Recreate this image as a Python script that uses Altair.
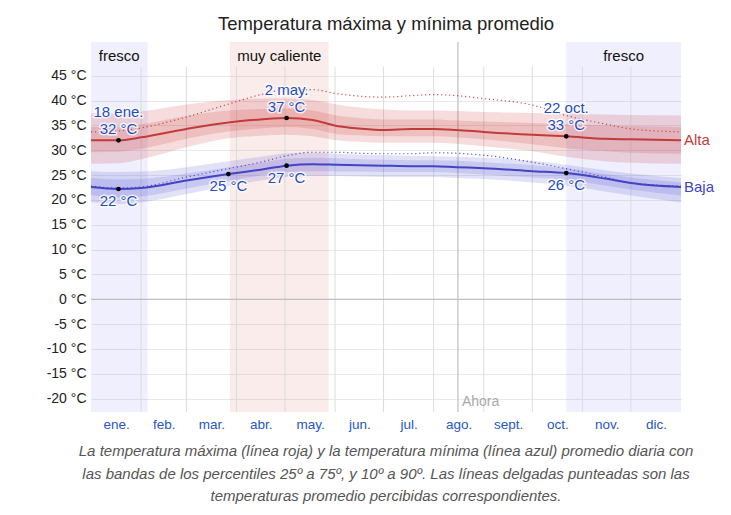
import altair as alt
import pandas as pd

FONT = "Liberation Sans"

# ---- data (day of year 0..365) ----
days    = [0, 17, 31, 59, 85, 105, 121, 137, 152, 166, 181, 198, 212, 226, 243, 273, 294, 318, 334, 365]
hi_mean = [32.0, 32.0, 32.6, 34.3, 35.6, 36.2, 36.5, 36.1, 34.9, 34.4, 34.1, 34.3, 34.3, 34.1, 33.7, 33.1, 32.8, 32.3, 32.2, 32.0]
hi_p90  = [37.4, 37.4, 37.8, 39.2, 40.1, 40.4, 40.4, 40.1, 39.2, 38.6, 38.2, 38.0, 38.0, 37.9, 37.7, 37.5, 37.4, 37.2, 37.1, 37.0]
hi_p75  = [34.7, 34.7, 35.2, 36.9, 38.0, 38.3, 38.4, 38.0, 37.0, 36.5, 36.2, 36.2, 36.2, 36.0, 35.8, 35.5, 35.3, 35.0, 34.9, 34.7]
hi_p25  = [29.6, 29.7, 30.3, 32.3, 33.8, 34.4, 34.7, 34.3, 33.3, 33.0, 32.8, 32.8, 32.8, 32.6, 32.2, 31.2, 30.4, 29.8, 29.5, 29.3]
hi_p10  = [27.3, 27.4, 28.2, 30.6, 32.4, 32.9, 33.1, 32.8, 32.0, 31.7, 31.5, 31.5, 31.5, 31.3, 30.8, 29.8, 28.7, 27.8, 27.5, 27.3]
hi_feel = [33.7, 33.9, 34.5, 36.7, 39.3, 41.2, 42.2, 42.2, 41.4, 40.9, 40.7, 41.0, 41.2, 41.0, 40.4, 39.1, 37.0, 35.3, 34.3, 33.7]

lo_mean = [22.6, 22.2, 22.4, 23.9, 25.2, 26.1, 26.9, 27.2, 27.1, 27.0, 26.9, 26.8, 26.8, 26.6, 26.4, 25.8, 25.4, 24.3, 23.4, 22.6]
lo_p90  = [25.8, 25.6, 25.7, 26.6, 27.8, 28.7, 29.4, 29.5, 29.3, 29.1, 29.0, 28.9, 28.8, 28.7, 28.5, 27.9, 27.1, 26.0, 25.3, 24.4]
lo_p75  = [24.4, 24.1, 24.2, 25.3, 26.6, 27.5, 28.3, 28.5, 28.4, 28.2, 28.1, 28.0, 28.0, 27.9, 27.6, 27.0, 26.4, 25.2, 24.5, 23.5]
lo_p25  = [21.0, 20.5, 20.7, 22.3, 23.8, 24.9, 25.6, 25.8, 25.8, 25.7, 25.6, 25.6, 25.6, 25.4, 25.1, 24.5, 24.0, 22.9, 22.1, 20.9]
lo_p10  = [19.6, 19.2, 19.5, 21.2, 22.8, 23.9, 24.6, 24.8, 24.8, 24.7, 24.6, 24.6, 24.6, 24.4, 24.2, 23.5, 22.9, 21.7, 20.9, 19.5]
lo_feel = [22.8, 22.4, 22.6, 24.6, 26.3, 27.6, 28.9, 29.6, 29.6, 29.4, 29.3, 29.3, 29.5, 29.4, 29.0, 27.6, 26.3, 24.6, 23.4, 22.8]

month_names  = ["ene.", "feb.", "mar.", "abr.", "may.", "jun.", "jul.", "ago.", "sept.", "oct.", "nov.", "dic."]
month_starts = [0, 31, 59, 90, 120, 151, 181, 212, 243, 273, 304, 334, 365]
y_ticks      = [-20, -15, -10, -5, 0, 5, 10, 15, 20, 25, 30, 35, 40, 45]

region_start = [0, 86, 294]
region_end   = [35, 147, 365]
region_label = ["fresco", "muy caliente", "fresco"]
region_kind  = ["fresco", "caliente", "fresco"]

ann_day   = [17, 17, 121, 121, 85, 294, 294]
ann_val   = [32.0, 22.2, 36.5, 26.9, 25.2, 32.8, 25.4]
ann_date  = ["18 ene.", "", "2 may.", "", "", "22 oct.", ""]
ann_temp  = ["32 °C", "22 °C", "37 °C", "27 °C", "25 °C", "33 °C", "26 °C"]
ann_pos   = ["above", "below", "above", "below", "below", "above", "below"]

now_day = 227
now_label_y = -20.7

title = "Temperatura máxima y mínima promedio"
caption = ("La temperatura máxima (línea roja) y la temperatura mínima (línea azul) promedio diaria con\n"
           "las bandas de los percentiles 25º a 75º, y 10º a 90º. Las líneas delgadas punteadas son las\n"
           "temperaturas promedio percibidas correspondientes.")

# ---- tables ----
df = pd.DataFrame(dict(day=days, hi=hi_mean, hi90=hi_p90, hi75=hi_p75, hi25=hi_p25, hi10=hi_p10, hif=hi_feel,
                       lo=lo_mean, lo90=lo_p90, lo75=lo_p75, lo25=lo_p25, lo10=lo_p10, lof=lo_feel))
mids = [(month_starts[i] + month_starts[i + 1]) / 2 for i in range(12)]
grid_df = pd.DataFrame(dict(day=month_starts[1:-1], top=[46.8] * 11, bot=[-22.7] * 11))
now_df = pd.DataFrame(dict(day=[now_day], top=[51.8], bot=[-22.7], ly=[now_label_y], t=["Ahora"]))
reg_df = pd.DataFrame(dict(s=region_start, e=region_end, label=region_label, kind=region_kind))
reg_df["mid"] = (reg_df.s + reg_df.e) / 2
ann_df = pd.DataFrame(dict(day=ann_day, v=ann_val, date=ann_date, temp=ann_temp, pos=ann_pos))
end_df = pd.DataFrame(dict(day=[365, 365], v=[hi_mean[-1], lo_mean[-1]], t=["Alta", "Baja"], c=["Alta", "Baja"]))
zero_df = pd.DataFrame(dict(v=[0]))

W, H = 590, 370
xscale = alt.Scale(domain=[0, 365], nice=False, zero=False)
yscale = alt.Scale(domain=[-22.7, 51.8], nice=False, zero=False)
label_expr = "[" + ",".join("'%s'" % m for m in month_names) + "][floor(datum.value / 30.42)]"
xaxis = alt.Axis(values=mids, labelExpr=label_expr, title=None, grid=False, ticks=False, domain=False,
                 labelColor="#2756c6", labelFontSize=13.5, labelPadding=5, labelFont=FONT,
                 labelOverlap=False, labelFlush=False)
yaxis = alt.Axis(values=y_ticks, labelExpr="datum.value + ' °C'", title=None, grid=True, gridColor="#e9e9e9",
                 ticks=False, domain=False, labelColor="#222222", labelFontSize=14, labelPadding=5,
                 labelFont=FONT, labelOverlap=False, labelFlush=False)


def X(f):
    return alt.X(f, scale=xscale, axis=xaxis)


def Y(f):
    return alt.Y(f, scale=yscale, axis=yaxis)


base = alt.Chart(df)

regions = alt.Chart(reg_df).mark_rect().encode(
    x=X("s:Q"), x2="e:Q",
    color=alt.Color("kind:N", scale=alt.Scale(domain=["fresco", "caliente"], range=["#6a6aef", "#dc6464"]), legend=None),
    opacity=alt.Opacity("kind:N", scale=alt.Scale(domain=["fresco", "caliente"], range=[0.11, 0.12]), legend=None),
)
reg_text = alt.Chart(reg_df).mark_text(font=FONT, fontSize=15, color="#111111", baseline="middle").encode(
    x=X("mid:Q"), y=alt.value(14), text="label:N")

vgrid = alt.Chart(grid_df).mark_rule(color="#dcdcdc", strokeWidth=1).encode(x=X("day:Q"), y=Y("top:Q"), y2="bot:Q")
zero = alt.Chart(zero_df).mark_rule(color="#b5b5b5", strokeWidth=1).encode(y=Y("v:Q"))
now_rule = alt.Chart(now_df).mark_rule(color="#c4c4c4", strokeWidth=1.3).encode(x=X("day:Q"), y=Y("top:Q"), y2="bot:Q")
now_text = alt.Chart(now_df).mark_text(font=FONT, fontSize=14, color="#aaaaaa", align="left", dx=4,
                                        baseline="middle").encode(x=X("day:Q"), y=Y("ly:Q"), text="t:N")

RED, BLUE = "#c23b3b", "#4343c4"
hi_out = base.mark_area(interpolate="monotone", color="#c83232", opacity=0.17).encode(x=X("day:Q"), y=Y("hi10:Q"), y2="hi90:Q")
hi_in = base.mark_area(interpolate="monotone", color="#c83232", opacity=0.17).encode(x=X("day:Q"), y=Y("hi25:Q"), y2="hi75:Q")
lo_out = base.mark_area(interpolate="monotone", color="#5050d2", opacity=0.17).encode(x=X("day:Q"), y=Y("lo10:Q"), y2="lo90:Q")
lo_in = base.mark_area(interpolate="monotone", color="#5050d2", opacity=0.17).encode(x=X("day:Q"), y=Y("lo25:Q"), y2="lo75:Q")
hi_f = base.mark_line(interpolate="monotone", color=RED, strokeWidth=1.2, strokeDash=[1.2, 2.8], opacity=0.9).encode(x=X("day:Q"), y=Y("hif:Q"))
lo_f = base.mark_line(interpolate="monotone", color=BLUE, strokeWidth=1.2, strokeDash=[1.2, 2.8], opacity=0.9).encode(x=X("day:Q"), y=Y("lof:Q"))
hi_l = base.mark_line(interpolate="monotone", color=RED, strokeWidth=2).encode(x=X("day:Q"), y=Y("hi:Q"))
lo_l = base.mark_line(interpolate="monotone", color=BLUE, strokeWidth=2).encode(x=X("day:Q"), y=Y("lo:Q"))

pts = alt.Chart(ann_df).mark_circle(color="black", size=22, opacity=1).encode(x=X("day:Q"), y=Y("v:Q"))

ANN = "#1f4dbf"


def ann_layer(field, pos, dy):
    src = alt.Chart(ann_df).transform_filter(alt.datum.pos == pos).transform_filter(alt.datum[field] != "")
    halo = src.mark_text(font=FONT, fontSize=15, dy=dy, baseline="middle", stroke="white", strokeWidth=3,
                         strokeOpacity=0.75, color="white").encode(x=X("day:Q"), y=Y("v:Q"), text=f"{field}:N")
    txt = src.mark_text(font=FONT, fontSize=15, dy=dy, baseline="middle", color=ANN).encode(
        x=X("day:Q"), y=Y("v:Q"), text=f"{field}:N")
    return [halo, txt]


ann_layers = ann_layer("date", "above", -28) + ann_layer("temp", "above", -11) + ann_layer("temp", "below", 12)

end_text = alt.Chart(end_df).mark_text(font=FONT, fontSize=15, align="left", dx=3, baseline="middle").encode(
    x=X("day:Q"), y=Y("v:Q"), text="t:N",
    color=alt.Color("c:N", scale=alt.Scale(domain=["Alta", "Baja"], range=[RED, BLUE]), legend=None))

title_df = pd.DataFrame(dict(t=[title]))
title_l = alt.Chart(title_df).mark_text(font=FONT, fontSize=18.5, color="#222222", baseline="middle").encode(
    x=alt.value(W / 2), y=alt.value(-18), text="t:N")
cap_df = pd.DataFrame(dict(t=[caption]))
cap_l = alt.Chart(cap_df).mark_text(font=FONT, fontSize=15, fontStyle="italic", color="#555555",
                                     baseline="middle", lineBreak="\n", lineHeight=22.5).encode(
    x=alt.value(W / 2), y=alt.value(39 + H), text="t:N")

chart = alt.layer(
    regions, vgrid, zero, now_rule, hi_out, hi_in, lo_out, lo_in, hi_f, lo_f, hi_l, lo_l, pts,
    *ann_layers, end_text, reg_text, now_text, title_l, cap_l
).resolve_scale(color="independent", opacity="independent").properties(
    width=W, height=H,
    padding={"left": 91, "top": 42, "right": 50, "bottom": 103},
    autosize=alt.AutoSizeParams(type="none"),
    background="white",
).configure_view(stroke=None)

chart.save("out.html", embed_options={"renderer": "svg", "actions": False})
